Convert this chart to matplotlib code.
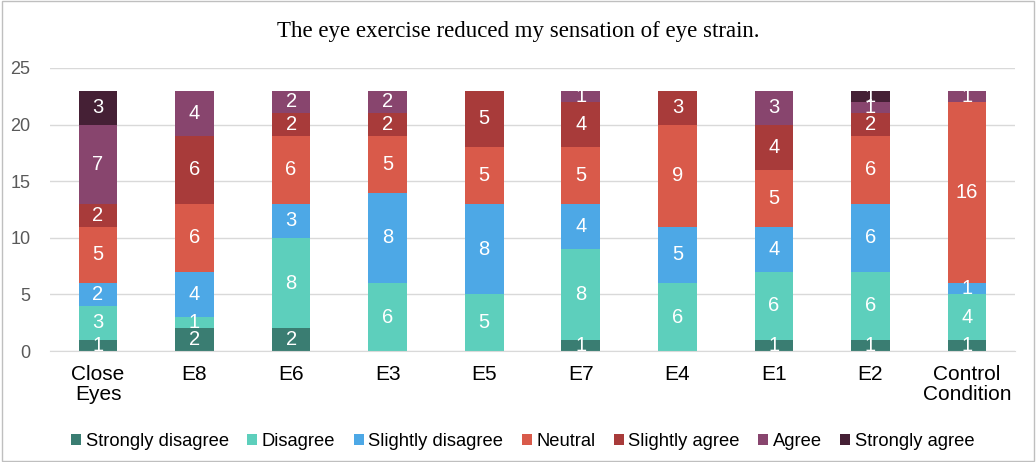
import numpy as np
import matplotlib.pyplot as plt
from matplotlib.patches import Rectangle

# categories and responses (counts)
categories = ['Close\nEyes', 'E8', 'E6', 'E3', 'E5', 'E7', 'E4', 'E1', 'E2', 'Control\nCondition']
levels = ['Strongly disagree', 'Disagree', 'Slightly disagree', 'Neutral',
          'Slightly agree', 'Agree', 'Strongly agree']
strongly_disagree = [1, 2, 2, 0, 0, 1, 0, 1, 1, 1]
disagree = [3, 1, 8, 6, 5, 8, 6, 6, 6, 4]
slightly_disagree = [2, 4, 3, 8, 8, 4, 5, 4, 6, 1]
neutral = [5, 6, 6, 5, 5, 5, 9, 5, 6, 16]
slightly_agree = [2, 6, 2, 2, 5, 4, 3, 4, 2, 0]
agree = [7, 4, 2, 2, 0, 1, 0, 3, 1, 1]
strongly_agree = [3, 0, 0, 0, 0, 0, 0, 0, 1, 0]

series = [strongly_disagree, disagree, slightly_disagree, neutral,
          slightly_agree, agree, strongly_agree]
colors = ['#3A7D72', '#5DCFBC', '#4DA8E6', '#D95A4A', '#A83B3A', '#88456E', '#452035']

plt.rcParams['font.family'] = ['Liberation Sans', 'DejaVu Sans']

fig = plt.figure(figsize=(10.36, 4.62), dpi=100)
ax = fig.add_axes([0.048, 0.24, 0.932, 0.613])

x = np.arange(len(categories))
bottom = np.zeros(len(categories))
for name, vals, col in zip(levels, series, colors):
    vals = np.array(vals)
    bars = ax.bar(x, vals, width=0.4, bottom=bottom, color=col, label=name, zorder=2)
    labels = [str(v) if v > 0 else '' for v in vals]
    ax.bar_label(bars, labels=labels, label_type='center', color='white', fontsize=14.5)
    bottom += vals

ax.set_xlim(-0.5, 9.5)
ax.set_ylim(0, 25)
ax.set_yticks(range(0, 26, 5))
ax.yaxis.grid(True, color='#D9D9D9', linewidth=1, zorder=0)
ax.set_axisbelow(True)
for s in ['top', 'right', 'left']:
    ax.spines[s].set_visible(False)
ax.spines['bottom'].set_color('#D9D9D9')
ax.tick_params(axis='both', length=0)
ax.tick_params(axis='y', colors='#595959', labelsize=13, pad=14)
ax.tick_params(axis='x', pad=10)
ax.set_xticks(x)
ax.set_xticklabels(categories, fontsize=15, linespacing=1.05)

fig.suptitle('The eye exercise reduced my sensation of eye strain.', y=0.955,
             fontsize=16.5, family='Liberation Serif')

ax.legend(loc='upper center', bbox_to_anchor=(0.49, -0.23), ncol=7, frameon=False,
          fontsize=13.2, handlelength=0.55, handleheight=0.55, handletextpad=0.25,
          columnspacing=1.0)

fig.patches.append(Rectangle((0.002, 0.003), 0.996, 0.994, transform=fig.transFigure,
                             fill=False, edgecolor='#BFBFBF', linewidth=1))

plt.savefig('out.png', dpi=100)
